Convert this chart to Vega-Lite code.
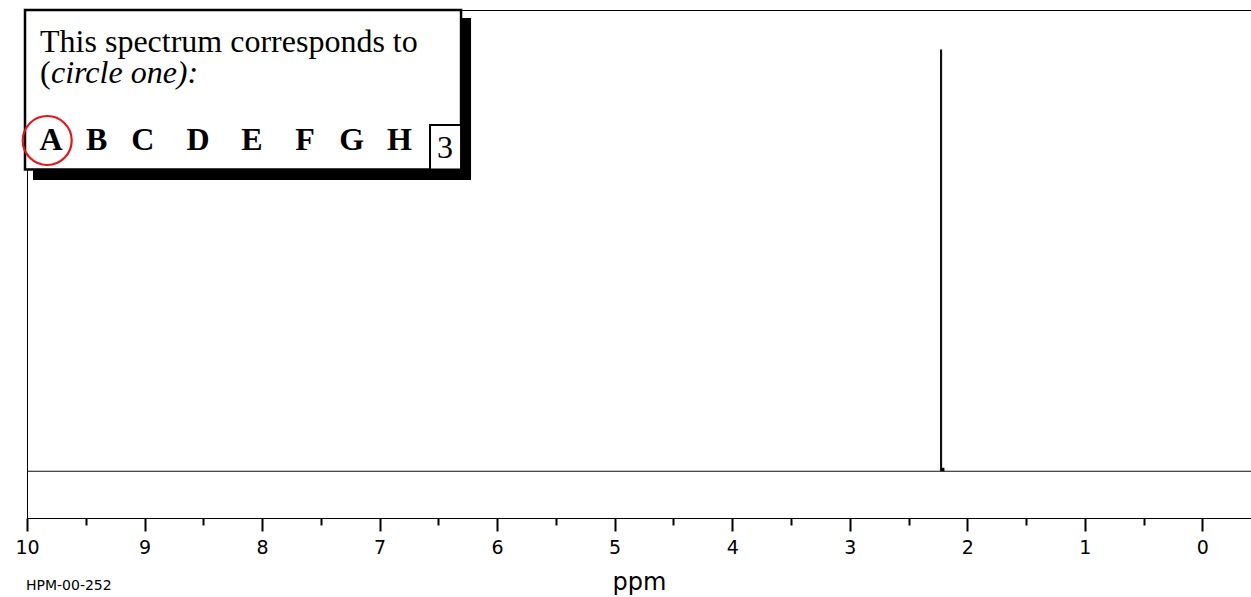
{
  "$schema": "https://vega.github.io/schema/vega-lite/v6.json",
  "width": 1224,
  "height": 508,
  "autosize": {"type": "none"},
  "padding": {"left": 27, "top": 10, "right": 0, "bottom": 79},
  "background": "white",
  "config": {
    "view": {"stroke": "#000", "strokeWidth": 1},
    "text": {"font": "Liberation Serif", "color": "#000"}
  },
  "datasets": {
    "spectrum": [
      {"i": 0, "x": 10, "y": 0},
      {"i": 1, "x": 2.227, "y": 0},
      {"i": 2, "x": 2.227, "y": 1},
      {"i": 3, "x": 2.219, "y": 1},
      {"i": 4, "x": 2.219, "y": 0},
      {"i": 5, "x": -0.414, "y": 0}
    ],
    "dot": [{"x": 2.209, "y": 0.004}],
    "shadow": [{"x": 9.949, "x2": 6.222, "y": 1.076, "y2": 0.6914}],
    "box": [{"x": 10.017, "x2": 6.307, "y": 1.095, "y2": 0.7163}],
    "smallbox": [{"x": 6.571, "x2": 6.307, "y": 0.822, "y2": 0.7163}],
    "line1": [{"x": 9.889, "y": 0.996, "t": "This spectrum corresponds to"}],
    "paren": [{"x": 9.889, "y": 0.9224, "t": "("}],
    "italic": [{"x": 9.796, "y": 0.9224, "t": "circle one):"}],
    "letters": [
      {"x": 9.796, "y": 0.7626, "t": "A"},
      {"x": 9.407, "y": 0.7626, "t": "B"},
      {"x": 9.0147, "y": 0.7626, "t": "C"},
      {"x": 8.545, "y": 0.7626, "t": "D"},
      {"x": 8.0856, "y": 0.7626, "t": "E"},
      {"x": 7.6346, "y": 0.7626, "t": "F"},
      {"x": 7.2373, "y": 0.7626, "t": "G"},
      {"x": 6.8306, "y": 0.7626, "t": "H"}
    ],
    "num": [{"x": 6.4435, "y": 0.7429, "t": "3"}],
    "circle": [{"x": 9.828, "y": 0.7852}],
    "code": [{"x": 10.0085, "y": -0.2725, "t": "HPM-00-252"}]
  },
  "encoding": {
    "x": {
      "field": "x",
      "type": "quantitative",
      "scale": {"domain": [-0.414, 10], "reverse": true, "nice": false, "zero": false},
      "axis": {
        "title": "ppm",
        "values": [0, 0.5, 1, 1.5, 2, 2.5, 3, 3.5, 4, 4.5, 5, 5.5, 6, 6.5, 7, 7.5, 8, 8.5, 9, 9.5, 10],
        "domain": false,
        "grid": false,
        "ticks": true,
        "tickColor": "#000",
        "tickWidth": 2,
        "tickSize": {"condition": {"test": "datum.value % 1 === 0", "value": 13}, "value": 7},
        "labelExpr": "datum.value % 1 === 0 ? format(datum.value, 'd') : ''",
        "labelFont": "DejaVu Sans",
        "labelFontSize": 19,
        "labelColor": "#000",
        "labelFlush": false,
        "labelOverlap": false,
        "labelBound": false,
        "labelPadding": 7,
        "titleFont": "DejaVu Sans",
        "titleFontSize": 24,
        "titleFontWeight": "normal",
        "titleColor": "#000",
        "titlePadding": 13
      }
    },
    "y": {
      "field": "y",
      "type": "quantitative",
      "scale": {"domain": [-0.111, 1.095], "nice": false, "zero": false},
      "axis": null
    }
  },
  "layer": [
    {
      "data": {"name": "spectrum"},
      "mark": {"type": "line", "stroke": "#111", "strokeWidth": 1.2, "interpolate": "linear"},
      "encoding": {"order": {"field": "i", "type": "quantitative"}}
    },
    {
      "data": {"name": "dot"},
      "mark": {"type": "square", "filled": true, "color": "#000", "size": 12, "opacity": 1}
    },
    {
      "data": {"name": "shadow"},
      "mark": {"type": "rect", "fill": "#000"},
      "encoding": {"x2": {"field": "x2"}, "y2": {"field": "y2"}}
    },
    {
      "data": {"name": "box"},
      "mark": {"type": "rect", "fill": "#fff", "stroke": "#000", "strokeWidth": 2.5},
      "encoding": {"x2": {"field": "x2"}, "y2": {"field": "y2"}}
    },
    {
      "data": {"name": "smallbox"},
      "mark": {"type": "rect", "fill": "#fff", "stroke": "#000", "strokeWidth": 2},
      "encoding": {"x2": {"field": "x2"}, "y2": {"field": "y2"}}
    },
    {
      "data": {"name": "line1"},
      "mark": {"type": "text", "align": "left", "baseline": "alphabetic", "fontSize": 32},
      "encoding": {"text": {"field": "t"}}
    },
    {
      "data": {"name": "paren"},
      "mark": {"type": "text", "align": "left", "baseline": "alphabetic", "fontSize": 32},
      "encoding": {"text": {"field": "t"}}
    },
    {
      "data": {"name": "italic"},
      "mark": {"type": "text", "align": "left", "baseline": "alphabetic", "fontSize": 32, "fontStyle": "italic"},
      "encoding": {"text": {"field": "t"}}
    },
    {
      "data": {"name": "letters"},
      "mark": {"type": "text", "align": "center", "baseline": "alphabetic", "fontSize": 32, "fontWeight": "bold"},
      "encoding": {"text": {"field": "t"}}
    },
    {
      "data": {"name": "num"},
      "mark": {"type": "text", "align": "center", "baseline": "alphabetic", "fontSize": 32},
      "encoding": {"text": {"field": "t"}}
    },
    {
      "data": {"name": "circle"},
      "mark": {"type": "point", "shape": "circle", "filled": false, "stroke": "#e8141b", "strokeWidth": 2.2, "size": 2401, "opacity": 1}
    },
    {
      "data": {"name": "code"},
      "mark": {"type": "text", "align": "left", "baseline": "middle", "fontSize": 14, "font": "DejaVu Sans"},
      "encoding": {"text": {"field": "t"}}
    }
  ]
}
